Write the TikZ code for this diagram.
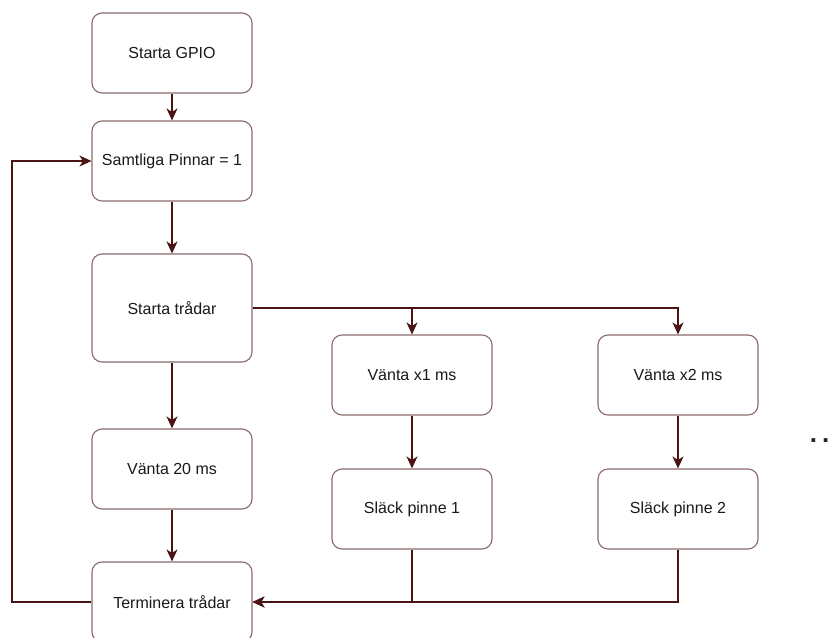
\documentclass[tikz,border=0pt]{standalone}
\usepackage{fontspec}
\setmainfont{Liberation Sans}
\usetikzlibrary{arrows.meta}
\definecolor{boxline}{HTML}{8A6A6A}
\definecolor{flowline}{HTML}{4A1414}
\tikzset{
  stepbox/.style={draw=boxline, line width=1.1pt, rounded corners=10pt,
    minimum width=160pt, minimum height=80pt, fill=white, inner sep=0pt,
    font=\fontsize{16}{19}\selectfont, text=black!90},
  flow/.style={draw=flowline, line width=1.2pt,
    -{Stealth[length=12pt, width=11pt, inset=3.5pt]}}
}
\begin{document}
\begin{tikzpicture}[x=1pt, y=-1pt]
\useasboundingbox (0,0) rectangle (832,637);

% main column
\node[stepbox] (gpio) at (172,53) {Starta GPIO};
\node[stepbox] (pins) at (172,161) {Samtliga Pinnar = 1};
\node[stepbox, minimum height=108pt] (start) at (172,308) {Starta trådar};
\node[stepbox] (wait) at (172,469) {Vänta 20 ms};
\node[stepbox] (term) at (172,602) {Terminera trådar};

% thread columns
\node[stepbox] (w1) at (412,375) {Vänta x1 ms};
\node[stepbox] (o1) at (412,509) {Släck pinne 1};
\node[stepbox] (w2) at (678,375) {Vänta x2 ms};
\node[stepbox] (o2) at (678,509) {Släck pinne 2};

% more threads follow
\node[anchor=base, inner sep=0pt, font=\bfseries\fontsize{26}{28}\selectfont,
  text=black!85] (more) at (819.5,442) {.\hspace{5pt}.};

% loop corners
\coordinate (loopB) at (12,602);
\coordinate (loopT) at (12,161);

% connectors
\draw[flow] (gpio) -- (pins);
\draw[flow] (pins) -- (start);
\draw[flow] (start) -- (wait);
\draw[flow] (wait) -- (term);
\draw[flow] (start.east) -| (w1.north);
\draw[flow] (start.east) -| (w2.north);
\draw[flow] (w1) -- (o1);
\draw[flow] (w2) -- (o2);
\draw[flow] (o1.south) |- (term.east);
\draw[flow] (o2.south) |- (term.east);
\draw[flow] (term.west) -- (loopB) -- (loopT) -- (pins.west);
\end{tikzpicture}
\end{document}
